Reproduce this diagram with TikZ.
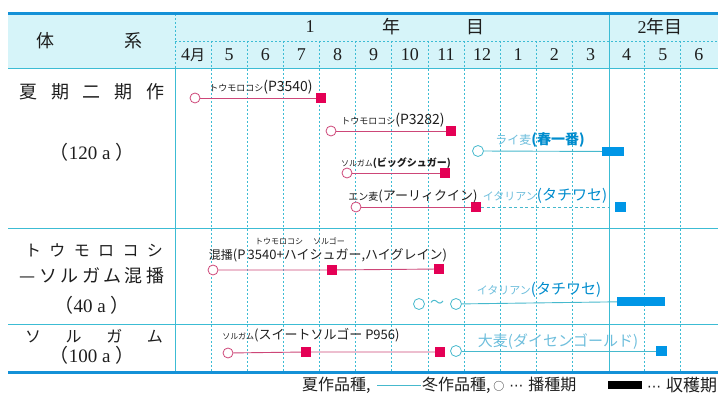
\documentclass[tikz,border=0pt]{standalone}
\usepackage{fontspec}
\setmainfont{Liberation Serif}
\newfontfamily\jp{Noto Sans CJK JP}
\newfontfamily\dv{DejaVu Sans}
\newcommand\setfs[1]{\fontsize{#1}{#1}\selectfont}
\newcommand\legdots{\hbox to 24pt{\hss\dv\setfs{14}⋯\hss}}
\definecolor{hdr}{RGB}{214,244,249}
\definecolor{topc}{RGB}{20,145,215}
\definecolor{gridc}{RGB}{60,188,212}
\definecolor{rline}{RGB}{205,70,120}
\definecolor{rsq}{RGB}{228,0,85}
\definecolor{bline}{RGB}{70,185,205}
\definecolor{bsq}{RGB}{0,150,230}
\definecolor{blt}{RGB}{110,190,220}
\definecolor{bdk}{RGB}{0,140,205}
\definecolor{txt}{RGB}{30,30,30}
\tikzset{
 lab/.style={font=\jp, text=txt, inner sep=0pt},
 hd/.style={text=txt, inner sep=0pt},
 rsow/.style={circle, draw=rline, line width=0.8pt, fill=white, minimum size=10pt, inner sep=0pt},
 bsow/.style={circle, draw=bline, line width=0.8pt, fill=white, minimum size=11pt, inner sep=0pt},
 rharv/.style={rectangle, fill=rsq, minimum width=10pt, minimum height=10pt, inner sep=0pt},
 bharv/.style={rectangle, fill=bsq, inner sep=0pt},
 rl/.style={draw=rline, line width=0.9pt},
 bl/.style={draw=bline, line width=0.9pt},
 gridd/.style={draw=gridc, line width=0.7pt, dash pattern=on 2pt off 2pt},
 grids/.style={draw=gridc, line width=0.8pt},
 thick line/.style={draw=topc, line width=3pt},
}
\begin{document}
\begin{tikzpicture}[x=1pt,y=-1pt]
\useasboundingbox (0,0) rectangle (718,395);
% header band
\fill[hdr] (8,14) rectangle (718,68);
% grid
\foreach \i in {1,...,11,13,14} {
  \draw[gridd] ({175+36.13*\i},41) -- ({175+36.13*\i},373);
}
\draw[gridd] (175,41) -- (718,41);
\draw[gridd] (175,14) -- (175,68);
\draw[grids] (175,68) -- (175,373);
\draw[grids] (609,14) -- (609,373);
\draw[grids] (8,68) -- (718,68);
\draw[grids] (8,228) -- (718,228);
\draw[grids] (8,324) -- (718,324);
\draw[thick line] (8,13.5) -- (718,13.5);
\draw[thick line] (8,373) -- (718,373);
% header texts
\node[hd, font=\jp\setfs{18}] (h1) at (45,41) {体};
\node[hd, font=\jp\setfs{18}] (h2) at (133,41) {系};
\node[hd, font=\setfs{18}] (y1) at (310,27) {1};
\node[hd, font=\jp\setfs{18}] (y2) at (391,27) {年};
\node[hd, font=\jp\setfs{18}] (y3) at (475,27) {目};
\node[hd, font=\setfs{18}] (y4) at (660,27) {2{\jp 年目}};
\foreach \m [count=\i from 0] in {{4{\jp\setfs{15}月}},5,6,7,8,9,10,11,12,1,2,3,4,5,6} {
  \node[hd, font=\setfs{18}] (m\i) at ({175+36.13*(\i+0.5)},55) {\m};
}
% left column
\node[hd, font=\jp\setfs{18}] (t1) at (92,92) {\makebox[145pt][s]{夏\hfill 期\hfill 二\hfill 期\hfill 作}};
\node[hd, font=\setfs{19}] (t1b) at (92,152) {{\jp （}120 a {\jp ）}};
\node[hd, font=\jp\setfs{16}] (t2) at (94,250) {\makebox[138pt][s]{ト\hfill ウ\hfill モ\hfill ロ\hfill コ\hfill シ}};
\node[hd, font=\jp\setfs{18}] (t2b) at (92,276) {\makebox[145pt][s]{—\hfill ソ\hfill ル\hfill ガ\hfill ム\hfill 混\hfill 播}};
\node[hd, font=\setfs{19}] (t2c) at (92,305) {{\jp （}40 a {\jp ）}};
\node[hd, font=\jp\setfs{16}] (t3) at (94,336) {\makebox[138pt][s]{ソ\hfill ル\hfill ガ\hfill ム}};
\node[hd, font=\setfs{19}] (t3b) at (92,355) {{\jp （}100 a {\jp ）}};
% ---- row 1 ----
\node[rsow] (c1) at (195,98) {};
\node[rharv] (s1) at (321,98) {};
\draw[rl] (c1) -- (s1);
\node[lab] (l1) at (261,87) {{\setfs{9}トウモロコシ}{\setfs{14}(P3540)}};
\node[rsow] (c2) at (331,131) {};
\node[rharv] (s2) at (451,131) {};
\draw[rl] (c2) -- (s2);
\node[lab] (l2) at (393,120) {{\setfs{9}トウモロコシ}{\setfs{14}(P3282)}};
\node[bsow] (c3) at (478,151) {};
\node[bharv, minimum width=22pt, minimum height=9pt] (r3) at (613,151.5) {};
\draw[bl] (c3) -- (r3);
\node[lab] (l3) at (540,140) {{\setfs{12}\color{blt}ライ麦}{\setfs{14}\bfseries\color{bdk}(春一番)}};
\node[rsow] (c4) at (347,173) {};
\node[rharv] (s4) at (445,173) {};
\draw[rl] (c4) -- (s4);
\node[lab] (l4) at (396,163) {{\setfs{8}ソルガム}{\setfs{10}\bfseries(ビッグシュガー)}};
\node[rsow] (c5) at (356,207) {};
\node[rharv] (s5) at (476,207) {};
\draw[rl] (c5) -- (s5);
\node[lab] (l5) at (413,196) {{\setfs{10}エン麦}{\setfs{13}(アーリィクイン)}};
\node[bharv, minimum width=11pt, minimum height=10pt] (r5) at (620,207) {};
\draw[bl, dash pattern=on 3pt off 2.5pt, shorten >=6pt] (s5) -- (r5);
\node[lab] (l6) at (545,196) {{\setfs{11}\color{blt}イタリアン}{\setfs{15}\color{bdk}(タチワセ)}};
% ---- row 2 ----
\node[rsow] (c6) at (213,270) {};
\node[rharv] (s6a) at (332,270) {};
\node[rharv] (s6b) at (439,269) {};
\draw[rl] (c6) -- (s6a) -- (s6b);
\node[lab, font=\jp\setfs{8}] (l7a) at (300,241) {トウモロコシ\hspace{10pt}ソルゴー};
\node[lab] (l7) at (328,255) {{\setfs{12}混播}{\setfs{13}(P\,3540+ハイシュガー,ハイグレイン)}};
\node[bsow] (c7a) at (419,304) {};
\node[lab, text=bline, font=\jp\setfs{14}] (tl) at (437,304) {〜};
\node[bsow] (c7b) at (456,304) {};
\node[bharv, minimum width=48pt, minimum height=9pt] (r7) at (641,301.5) {};
\draw[bl] (c7b) -- (r7);
\node[lab] (l8) at (539,290) {{\setfs{11}\color{blt}イタリアン}{\setfs{15}\color{bdk}(タチワセ)}};
% ---- row 3 ----
\node[rsow] (c8) at (228,353) {};
\node[rharv] (s8a) at (306,352) {};
\node[rharv] (s8b) at (440,352) {};
\draw[rl] (c8) -- (s8a) -- (s8b);
\node[lab] (l9) at (311,335) {{\setfs{8}ソルガム}{\setfs{13}(スイートソルゴー P956)}};
\node[bsow] (c9) at (456,351) {};
\node[bharv, minimum width=11pt, minimum height=10pt] (r9) at (661.5,351) {};
\draw[bl] (c9) -- (r9);
\node[lab, text=blt, font=\jp\setfs{15}] (l10) at (558,342) {大麦(ダイセンゴールド)};
% ---- legend ----
\node[lab, font=\jp\setfs{16}, anchor=west] (g1) at (302,385) {夏作品種,};
\coordinate (lg1) at (377,385);
\coordinate (lg2) at (421,385);
\draw[bl] (lg1) -- (lg2);
\node[lab, font=\jp\setfs{16}, anchor=west] (g2) at (422,385) {冬作品種,\,{\setfs{11}○}\legdots 播種期};
\node[fill=black, minimum width=34pt, minimum height=8pt, inner sep=0pt] (g3) at (625,385) {};
\node[lab, font=\jp\setfs{17}, anchor=west] (g4) at (642,385) {\legdots 収穫期};
\end{tikzpicture}
\end{document}
